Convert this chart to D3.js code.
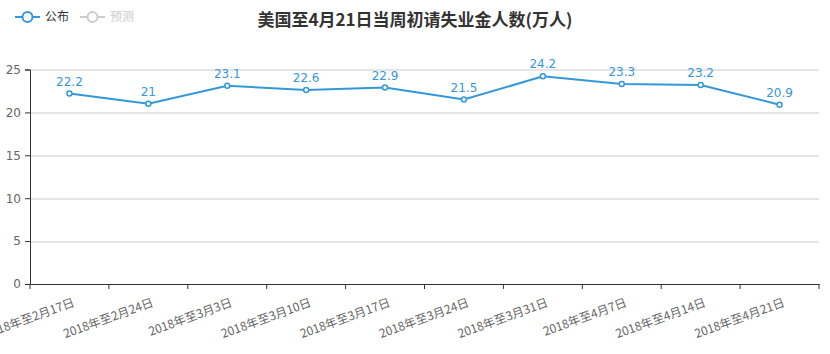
<!DOCTYPE html>
<html>
<head>
<meta charset="utf-8">
<script src="https://cdn.jsdelivr.net/npm/d3@7/dist/d3.min.js"></script>
<style>
  body { margin: 0; background: #fff; }
  text { font-family: "Noto Sans CJK SC", "Noto Sans", sans-serif; }
</style>
</head>
<body>
<div id="chart"></div>
<script>
// 데이터
const weeks = ["2018年至2月17日", "2018年至2月24日", "2018年至3月3日", "2018年至3月10日", "2018年至3月17日",
  "2018年至3月24日", "2018年至3月31日", "2018年至4月7日", "2018年至4月14日", "2018年至4月21日"];
const published = [22.2, 21, 23.1, 22.6, 22.9, 21.5, 24.2, 23.3, 23.2, 20.9];
const yTicks = [0, 5, 10, 15, 20, 25];
const legendItems = ["公布", "预测"];
const title = "美国至4月21日当周初请失业金人数(万人)";

const W = 830, H = 354;
const margin = { top: 69.5, right: 11, bottom: 70, left: 30 };
const width = W - margin.left - margin.right;
const height = H - margin.top - margin.bottom;
const lineColor = "#3398DB";

const svg = d3.select("#chart").append("svg")
  .attr("width", W).attr("height", H);

const g = svg.append("g")
  .attr("transform", `translate(${margin.left},${margin.top})`);

const x = d3.scaleBand().domain(weeks).range([0, width]);
const y = d3.scaleLinear().domain([0, 25]).range([height, 0]);

// 그리드
g.selectAll(".grid").data(yTicks.filter(d => d > 0)).enter()
  .append("line")
  .attr("x1", 0).attr("x2", width)
  .attr("y1", d => Math.round(y(d)) + 0.5).attr("y2", d => Math.round(y(d)) + 0.5)
  .attr("stroke", "#ccc");

// y축
const yAxis = g.append("g")
  .call(d3.axisLeft(y).tickValues(yTicks).tickSize(5).tickPadding(4));
yAxis.select(".domain").attr("stroke", "#333");
yAxis.selectAll(".tick line").attr("stroke", "#333");
yAxis.selectAll("text").attr("fill", "#666").attr("font-size", 12)
  .style("font-family", "'DejaVu Sans', sans-serif");

// x축
const xAxis = g.append("g")
  .attr("transform", `translate(0,${height})`)
  .call(d3.axisBottom(x).tickSize(0).tickFormat(""));
xAxis.select(".domain").attr("stroke", "#333");
xAxis.selectAll(".bnd").data(d3.range(weeks.length + 1)).enter()
  .append("line")
  .attr("x1", i => i * x.step()).attr("x2", i => i * x.step())
  .attr("y1", 0).attr("y2", 5).attr("stroke", "#333");

g.selectAll(".xlabel").data(weeks).enter()
  .append("text")
  .attr("transform", d => `translate(${x(d) + x.bandwidth() / 2 + 3},${height + 14}) rotate(-20)`)
  .attr("text-anchor", "end")
  .attr("dy", "0.7em")
  .attr("font-size", 12)
  .attr("fill", "#666")
  .text(d => d);

// 선
const pts = weeks.map((w, i) => ({ w, v: published[i] }));
const line = d3.line().x(d => x(d.w) + x.bandwidth() / 2).y(d => y(d.v));
g.append("path").datum(pts)
  .attr("d", line)
  .attr("fill", "none")
  .attr("stroke", lineColor)
  .attr("stroke-width", 2);

g.selectAll(".pt").data(pts).enter()
  .append("circle")
  .attr("cx", d => x(d.w) + x.bandwidth() / 2)
  .attr("cy", d => y(d.v))
  .attr("r", 2.5)
  .attr("fill", "#fff")
  .attr("stroke", lineColor)
  .attr("stroke-width", 1.5);

g.selectAll(".lbl").data(pts).enter()
  .append("text")
  .attr("x", d => x(d.w) + x.bandwidth() / 2)
  .attr("y", d => y(d.v) - 8)
  .attr("text-anchor", "middle")
  .attr("font-size", 12)
  .attr("fill", lineColor)
  .style("font-family", "'DejaVu Sans', sans-serif")
  .text(d => d.v);

// 제목
svg.append("text")
  .attr("x", 415).attr("y", 26)
  .attr("text-anchor", "middle")
  .attr("font-size", 17)
  .attr("font-weight", "bold")
  .attr("fill", "#333")
  .text(title);

// 범례
const lg = svg.selectAll(".legend").data(legendItems).enter()
  .append("g")
  .attr("transform", (d, i) => `translate(${15 + i * 65},17)`);
lg.append("line").attr("x1", 0).attr("x2", 25)
  .attr("stroke", (d, i) => i === 0 ? lineColor : "#ccc").attr("stroke-width", 2);
lg.append("circle").attr("cx", 12.5).attr("r", 5)
  .attr("fill", "#fff")
  .attr("stroke", (d, i) => i === 0 ? lineColor : "#ccc").attr("stroke-width", 2);
lg.append("text").attr("x", 30).attr("dy", "0.35em")
  .attr("font-size", 12)
  .attr("fill", (d, i) => i === 0 ? "#333" : "#ccc")
  .text(d => d);
</script>
</body>
</html>
